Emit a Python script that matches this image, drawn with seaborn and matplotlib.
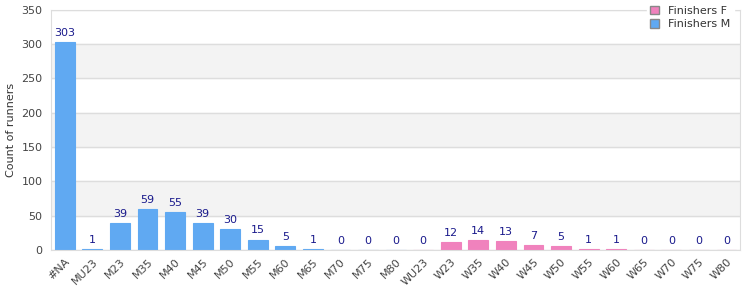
import pandas as pd
import seaborn as sns
from matplotlib import pyplot as plt
from matplotlib.patches import Patch

# Age categories and counts
categories = ['#NA', 'MU23', 'M23', 'M35', 'M40', 'M45', 'M50', 'M55', 'M60',
              'M65', 'M70', 'M75', 'M80', 'WU23', 'W23', 'W35', 'W40', 'W45',
              'W50', 'W55', 'W60', 'W65', 'W70', 'W75', 'W80']
counts = [303, 1, 39, 59, 55, 39, 30, 15, 5, 1, 0, 0, 0,
          0, 12, 14, 13, 7, 5, 1, 1, 0, 0, 0, 0]
groups = ['Finishers M'] * 13 + ['Finishers F'] * 12

df = pd.DataFrame({'category': categories, 'count': counts, 'group': groups})

palette = {'Finishers F': '#f082bd', 'Finishers M': '#60a9f2'}

sns.set_style('white')
plt.rcParams['font.family'] = ['DejaVu Sans']

fig = plt.figure(figsize=(7.5, 3), dpi=100)
ax = fig.add_axes([0.068, 0.167, 0.919, 0.80])

# Alternating background bands
for lo in (50, 150, 250):
    ax.axhspan(lo, lo + 50, color='#f3f3f3', zorder=0)

sns.barplot(data=df, x='category', y='count', hue='group', order=categories,
            hue_order=['Finishers M', 'Finishers F'], palette=palette,
            saturation=1, dodge=False, width=0.72, legend=False, ax=ax,
            zorder=2)

# thin outline in the bar colour so bars of height 1 stay visible
for c in ax.containers:
    for bar in c:
        bar.set_edgecolor(bar.get_facecolor())
        bar.set_linewidth(0.8)
    ax.bar_label(c, padding=3, fontsize=8, color='#1a1a8c')

ax.set_ylim(0, 350)
ax.set_yticks(range(0, 351, 50))
ax.yaxis.grid(True, color='#dddddd', linewidth=1)
ax.set_axisbelow(True)
ax.set_xlim(-0.5, len(categories) - 0.5)

ax.set_xlabel('')
ax.set_ylabel('Count of runners', fontsize=8, color='#333333')
ax.tick_params(axis='y', labelsize=8, labelcolor='#444444', length=0, pad=6)
ax.tick_params(axis='x', labelsize=8, labelcolor='#444444', length=0, pad=5)
plt.setp(ax.get_xticklabels(), rotation=45, ha='right', rotation_mode='anchor')

for s in ax.spines.values():
    s.set_color('#dddddd')

# Legend in the top right corner
handles = [Patch(facecolor=palette['Finishers F'], edgecolor='#888888', label='Finishers F'),
           Patch(facecolor=palette['Finishers M'], edgecolor='#888888', label='Finishers M')]
leg = fig.legend(handles=handles, loc='upper left', bbox_to_anchor=(0.855, 1.01),
                 frameon=True, fontsize=8, handlelength=0.8, handleheight=0.8,
                 handletextpad=0.8, labelspacing=0.3, borderpad=0.3,
                 labelcolor='#333333')
leg.get_frame().set_edgecolor('white')
leg.get_frame().set_facecolor('white')
leg.get_frame().set_alpha(1)

plt.savefig('out.png', dpi=100)
